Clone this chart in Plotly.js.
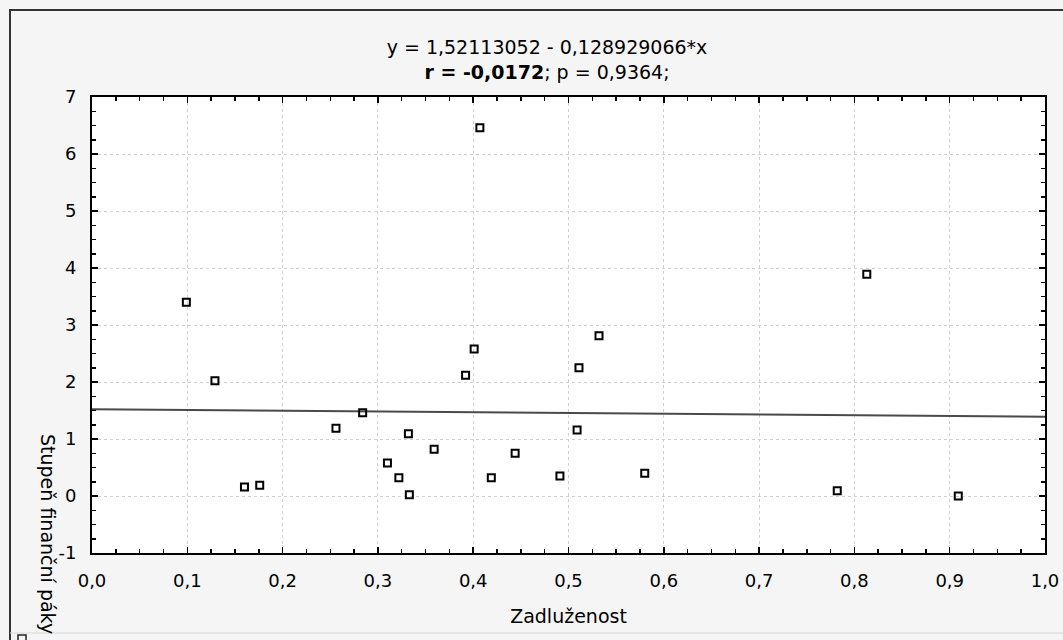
<!DOCTYPE html>
<html>
<head>
<meta charset="utf-8">
<script src="https://cdn.plot.ly/plotly-3.0.1.min.js"></script>
<style>html,body{margin:0;padding:0;background:#f5f5f5;}#chart{width:1063px;height:640px;}</style>
</head>
<body>
<div id="chart"></div>
<script>
// Data
const zadluzenost = [0.099, 0.129, 0.160, 0.176, 0.256, 0.284, 0.310, 0.322, 0.332, 0.333, 0.359, 0.392, 0.401, 0.407, 0.419, 0.444, 0.491, 0.509, 0.511, 0.532, 0.580, 0.782, 0.813, 0.909];
const stupenFinPaky = [3.40, 2.02, 0.16, 0.19, 1.19, 1.46, 0.58, 0.32, 1.09, 0.02, 0.82, 2.12, 2.58, 6.46, 0.32, 0.75, 0.35, 1.16, 2.25, 2.81, 0.40, 0.09, 3.89, 0.00];
const regIntercept = 1.52113052;
const regSlope = -0.128929066;
const regX = [0, 1];
const xTickVals = [0, 0.1, 0.2, 0.3, 0.4, 0.5, 0.6, 0.7, 0.8, 0.9, 1.0];
const xTickText = ["0,0", "0,1", "0,2", "0,3", "0,4", "0,5", "0,6", "0,7", "0,8", "0,9", "1,0"];
const yTickVals = [-1, 0, 1, 2, 3, 4, 5, 6, 7];
const yTickText = ["-1", "0", "1", "2", "3", "4", "5", "6", "7"];

const titleText = "y = 1,52113052 - 0,128929066*x<br><b>r = -0,0172</b>; p = 0,9364;";
const xTitle = "Zadluženost";
const yTitle = "Stupeň finanční páky";

const FONT = "DejaVu Sans, Liberation Sans, Arial, sans-serif";
const W = 1063, H = 640;
const L = 92, R = 1045, T = 97, B = 553;
const pw = R - L, ph = B - T;
const px = v => (v - L) / pw;          // pixel x -> paper x
const py = v => (B - v) / ph;          // pixel y -> paper y

const traces = [
  {
    x: regX,
    y: regX.map(x => regIntercept + regSlope * x),
    mode: 'lines',
    line: {color: '#4a4a4a', width: 2},
    hoverinfo: 'skip',
    showlegend: false
  },
  {
    x: zadluzenost,
    y: stupenFinPaky,
    mode: 'markers',
    marker: {symbol: 'square-open', size: 7, color: '#000', line: {width: 2, color: '#000'}},
    showlegend: false
  }
];

const axisCommon = {
  showline: true, linecolor: '#000', linewidth: 2, mirror: 'allticks',
  ticks: 'inside', ticklen: 6, tickwidth: 1.5, tickcolor: '#000',
  showgrid: true, gridcolor: '#d0d0d0', griddash: 'dot', gridwidth: 1,
  zeroline: false,
  tickfont: {family: FONT, size: 18, color: '#000'}
};

const layout = {
  width: W, height: H,
  paper_bgcolor: '#f5f5f5',
  plot_bgcolor: '#ffffff',
  margin: {l: L, r: W - R, t: T, b: H - B, pad: 0},
  separators: ', ',
  title: {
    text: titleText,
    font: {family: FONT, size: 19, color: '#000'},
    x: 547 / W, xanchor: 'center', xref: 'container',
    y: 1 - 54 / H, yanchor: 'middle', yref: 'container'
  },
  xaxis: Object.assign({}, axisCommon, {
    range: [0, 1],
    tickvals: xTickVals, ticktext: xTickText,
    minor: {dtick: 0.025, ticks: 'inside', ticklen: 4, tickcolor: '#000', showgrid: false},
    ticklabelstandoff: 10,
    title: {text: xTitle, font: {family: FONT, size: 19, color: '#000'}, standoff: 20}
  }),
  yaxis: Object.assign({}, axisCommon, {
    range: [-1, 7],
    tickvals: yTickVals, ticktext: yTickText,
    minor: {dtick: 0.25, ticks: 'inside', ticklen: 4, tickcolor: '#000', showgrid: false},
    ticklabelstandoff: 10,
    title: {text: ''}
  }),
  annotations: [
    {
      text: yTitle, textangle: 90,
      xref: 'paper', yref: 'paper',
      x: px(48), y: py(534), xanchor: 'center', yanchor: 'middle',
      showarrow: false,
      font: {family: FONT, size: 19, color: '#000'}
    }
  ],
  shapes: [
    {type: 'path', xref: 'paper', yref: 'paper',
     path: `M ${px(10)} ${py(645)} L ${px(10)} ${py(10)} L ${px(1070)} ${py(10)}`,
     line: {color: '#333', width: 2}},
    {type: 'line', xref: 'paper', yref: 'paper',
     x0: px(10), x1: px(1070), y0: py(633), y1: py(633),
     line: {color: '#d8d8d8', width: 1}},
    {type: 'rect', xref: 'paper', yref: 'paper',
     x0: px(18), x1: px(26), y0: py(643), y1: py(635),
     line: {color: '#222', width: 1.5}, fillcolor: 'rgba(0,0,0,0)'}
  ]
};

Plotly.newPlot('chart', traces, layout, {displayModeBar: false, staticPlot: true});
</script>
</body>
</html>
